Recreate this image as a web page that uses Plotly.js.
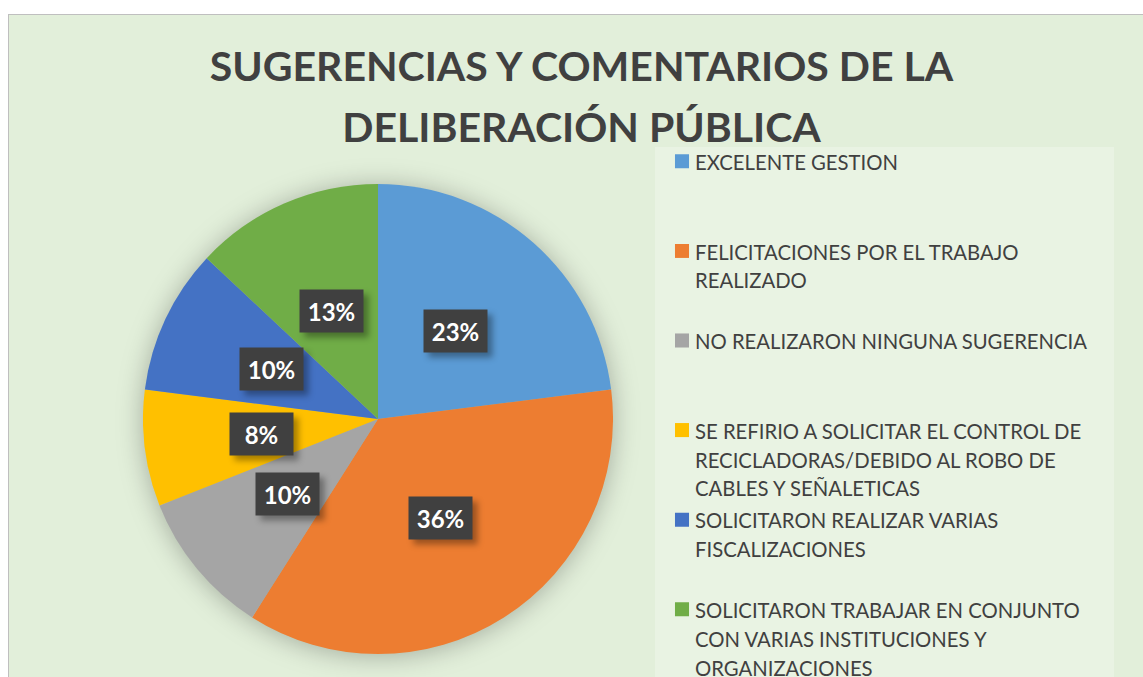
<!DOCTYPE html>
<html><head><meta charset="utf-8">
<script src="https://cdn.plot.ly/plotly-3.0.1.min.js"></script>
<style>
html,body{margin:0;padding:0;background:#ffffff;overflow:hidden;width:1143px;height:677px;}
#wrap{position:absolute;left:8px;top:14px;border-left:1px solid #bfbfbf;border-top:1px solid #bfbfbf;}
#chart{width:1134px;height:720px;}
.pielayer .trace{filter:drop-shadow(0px 2px 13px rgba(0,0,0,0.28));}
.annotation-text-g rect.bg{filter:drop-shadow(5px 5px 3px rgba(0,0,0,0.35));}
.legend .legendpie{transform:translate(27px,0px) scale(1.17);}
.legend > rect.bg{transform:translateY(7px);width:459px;}
</style></head>
<body><div id="wrap"><div id="chart"></div></div>
<script>
// ---- data ----
const categoryLines = [
  ["EXCELENTE GESTION"],
  ["FELICITACIONES POR EL TRABAJO", "REALIZADO"],
  ["NO REALIZARON NINGUNA SUGERENCIA"],
  ["SE REFIRIO A SOLICITAR EL CONTROL DE", "RECICLADORAS/DEBIDO AL ROBO DE", "CABLES Y SEÑALETICAS"],
  ["SOLICITARON REALIZAR VARIAS", "FISCALIZACIONES"],
  ["SOLICITARON TRABAJAR EN CONJUNTO", "CON VARIAS INSTITUCIONES Y", "ORGANIZACIONES"]
];
const percentages = [23, 36, 10, 8, 10, 13];
const sliceColors = ["#5B9BD5", "#ED7D31", "#A5A5A5", "#FFC000", "#4472C4", "#70AD47"];
const titleLines = ["SUGERENCIAS Y COMENTARIOS DE LA", "DELIBERACIÓN PÚBLICA"];

// ---- layout geometry ----
const W = 1134, H = 720;
const CX = 369, CY = 404, R = 235;

const legendLabels = categoryLines.map(lines => {
  const padded = lines.slice();
  while (padded.length < 3) padded.push("\u00a0");
  return '<span style="font-size:20.3px">' + padded.join("<br>") + '</span>';
});

const total = percentages.reduce((a, b) => a + b, 0);
let cum = 0;
const annotations = percentages.map(v => {
  const mid = (cum + v / 2) / total;
  cum += v;
  const th = mid * 2 * Math.PI;
  const px = CX + 0.5 * R * Math.sin(th);
  const py = CY - 0.5 * R * Math.cos(th);
  return {
    x: px / W, y: 1 - py / H, xref: "paper", yref: "paper",
    xanchor: "center", yanchor: "middle", showarrow: false,
    text: "<b>" + v + "%</b>",
    font: {family: "Lato, 'Open Sans', sans-serif", size: 24, color: "#ffffff"},
    bgcolor: "#404040", width: 61, height: 40, borderpad: 1
  };
});

const trace = {
  type: "pie",
  labels: legendLabels,
  values: percentages,
  sort: false,
  direction: "clockwise",
  rotation: 0,
  marker: {colors: sliceColors, line: {width: 0}},
  textinfo: "none",
  hoverinfo: "percent",
  domain: {x: [(CX - R) / W, (CX + R) / W], y: [1 - (CY + R) / H, 1 - (CY - R) / H]}
};

const layout = {
  width: W, height: H,
  margin: {l: 0, r: 0, t: 0, b: 0},
  paper_bgcolor: "#E2EFDA",
  plot_bgcolor: "#E2EFDA",
  font: {family: "Lato, 'Open Sans', sans-serif", color: "#404040"},
  title: {
    text: titleLines.map(t => '<span style="font-size:41px">' + t + '</span>').join("<br>"),
    font: {family: "Lato, 'Open Sans', sans-serif", size: 47, color: "#404040", weight: "bold"},
    x: 572.5 / W, xanchor: "center", xref: "container",
    y: 1 - 66 / H, yanchor: "top", yref: "container"
  },
  showlegend: true,
  legend: {
    x: 646 / W, xanchor: "left",
    y: 1 - 125.4 / H, yanchor: "top",
    bgcolor: "rgba(255,255,255,0.25)",
    borderwidth: 0,
    valign: "top",
    font: {family: "Lato, 'Open Sans', sans-serif", size: 22.2, color: "#404040"},
    traceorder: "normal"
  },
  annotations: annotations
};

Plotly.newPlot("chart", [trace], layout, {displayModeBar: false, staticPlot: true});
</script>
</body></html>
